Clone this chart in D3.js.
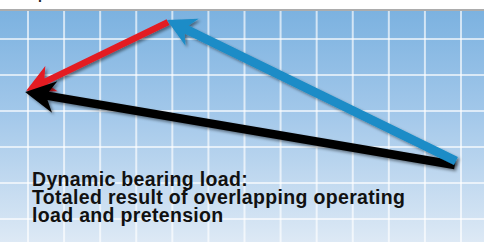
<!DOCTYPE html>
<html><head><meta charset="utf-8">
<script src="https://cdn.jsdelivr.net/npm/d3@7"></script>
<style>html,body{margin:0;padding:0;background:#fff;overflow:hidden}</style>
</head><body>
<script>
// ---- data (grid units) ----
const gridCols = d3.range(0, 13);
const gridRows = d3.range(0, 6);
const vectorNames = ["pretension", "resultant", "operating load"];
const vectorColors = ["#e31b23", "#000000", "#1a8cc7"];
const startX = [3.88, 11.83, 11.86];
const startY = [-0.47, 3.5, 3.39];
const endX = [-0.05, -0.08, 3.85];
const endY = [1.44, 1.47, -0.53];
const captionLines = ["Dynamic bearing load:", "Totaled result of overlapping operating", "load and pretension"];

const W = 484, H = 242;
const svg = d3.select("body").append("svg").attr("width", W).attr("height", H);
const defs = svg.append("defs");
const grad = defs.append("linearGradient").attr("id", "bg").attr("x1", 0).attr("y1", 0).attr("x2", 0).attr("y2", 1);
grad.append("stop").attr("offset", 0).attr("stop-color", "#7cb2e0");
grad.append("stop").attr("offset", 0.45).attr("stop-color", "#a3c8ea");
grad.append("stop").attr("offset", 1).attr("stop-color", "#dde9f5");
const f = defs.append("filter").attr("id", "sh").attr("x", "-20%").attr("y", "-50%").attr("width", "140%").attr("height", "200%");
f.append("feDropShadow").attr("dx", 2).attr("dy", 2).attr("stdDeviation", 1.6).attr("flood-color", "#000").attr("flood-opacity", 0.45);

const x = d3.scaleLinear().domain([0, 12]).range([28, 461]);
const y = d3.scaleLinear().domain([0, 5]).range([39, 219]);

// top strip
svg.append("rect").attr("x", 0).attr("y", 0).attr("width", W).attr("height", 10).attr("fill", "#fff");
svg.append("text").attr("x", 38).attr("y", -1).attr("font-family", "Liberation Sans, Arial, sans-serif")
  .attr("font-weight", "bold").attr("font-size", 14).attr("fill", "#222").text("p");
svg.append("rect").attr("x", 0).attr("y", 9).attr("width", W).attr("height", 2).attr("fill", "#acacac");
svg.append("rect").attr("x", 0).attr("y", 11).attr("width", W).attr("height", H - 11).attr("fill", "url(#bg)");

// grid
const g = svg.append("g");
g.selectAll("line.v").data(gridCols).enter().append("line").attr("class", "v")
  .attr("x1", d => x(d)).attr("x2", d => x(d)).attr("y1", 11).attr("y2", H)
  .attr("stroke", "#fff").attr("stroke-opacity", 0.65).attr("stroke-width", 2);
g.selectAll("line.h").data(gridRows).enter().append("line").attr("class", "h")
  .attr("y1", d => y(d)).attr("y2", d => y(d)).attr("x1", 0).attr("x2", W)
  .attr("stroke", "#fff").attr("stroke-opacity", 0.65).attr("stroke-width", 2);

// arrows
const widths = [6.5, 8.5, 9];
const headLen = [28, 30, 28];
const headW = [28, 32, 30];
function arrowPath(i) {
  const x0 = x(startX[i]), y0 = y(startY[i]), x1 = x(endX[i]), y1 = y(endY[i]);
  const dx = x1 - x0, dy = y1 - y0, L = Math.hypot(dx, dy);
  const ux = dx / L, uy = dy / L, nx = -uy, ny = ux;
  const w = widths[i] / 2, hw = headW[i] / 2, hl = headLen[i];
  const bx = x1 - ux * hl, by = y1 - uy * hl;
  const nb = x1 - ux * hl * 0.78, mb = y1 - uy * hl * 0.78;
  const pts = [
    [x0 + nx * w, y0 + ny * w],
    [nb + nx * w, mb + ny * w],
    [bx + nx * hw, by + ny * hw],
    [x1, y1],
    [bx - nx * hw, by - ny * hw],
    [nb - nx * w, mb - ny * w],
    [x0 - nx * w, y0 - ny * w]
  ];
  return d3.line()(pts) + "Z";
}
svg.append("g").selectAll("path").data(vectorNames).enter().append("path")
  .attr("d", (d, i) => arrowPath(i))
  .attr("fill", (d, i) => vectorColors[i])
  .attr("filter", "url(#sh)");

// caption
const cap = svg.append("g").attr("font-family", "Liberation Sans, Arial, Helvetica, sans-serif")
  .attr("font-weight", "bold").attr("font-size", 19.5).attr("letter-spacing", 0.33).attr("fill", "#111");
cap.selectAll("text").data(captionLines).enter().append("text")
  .attr("x", 32).attr("y", (d, i) => 186 + i * 18).text(d => d);
</script>
</body></html>
